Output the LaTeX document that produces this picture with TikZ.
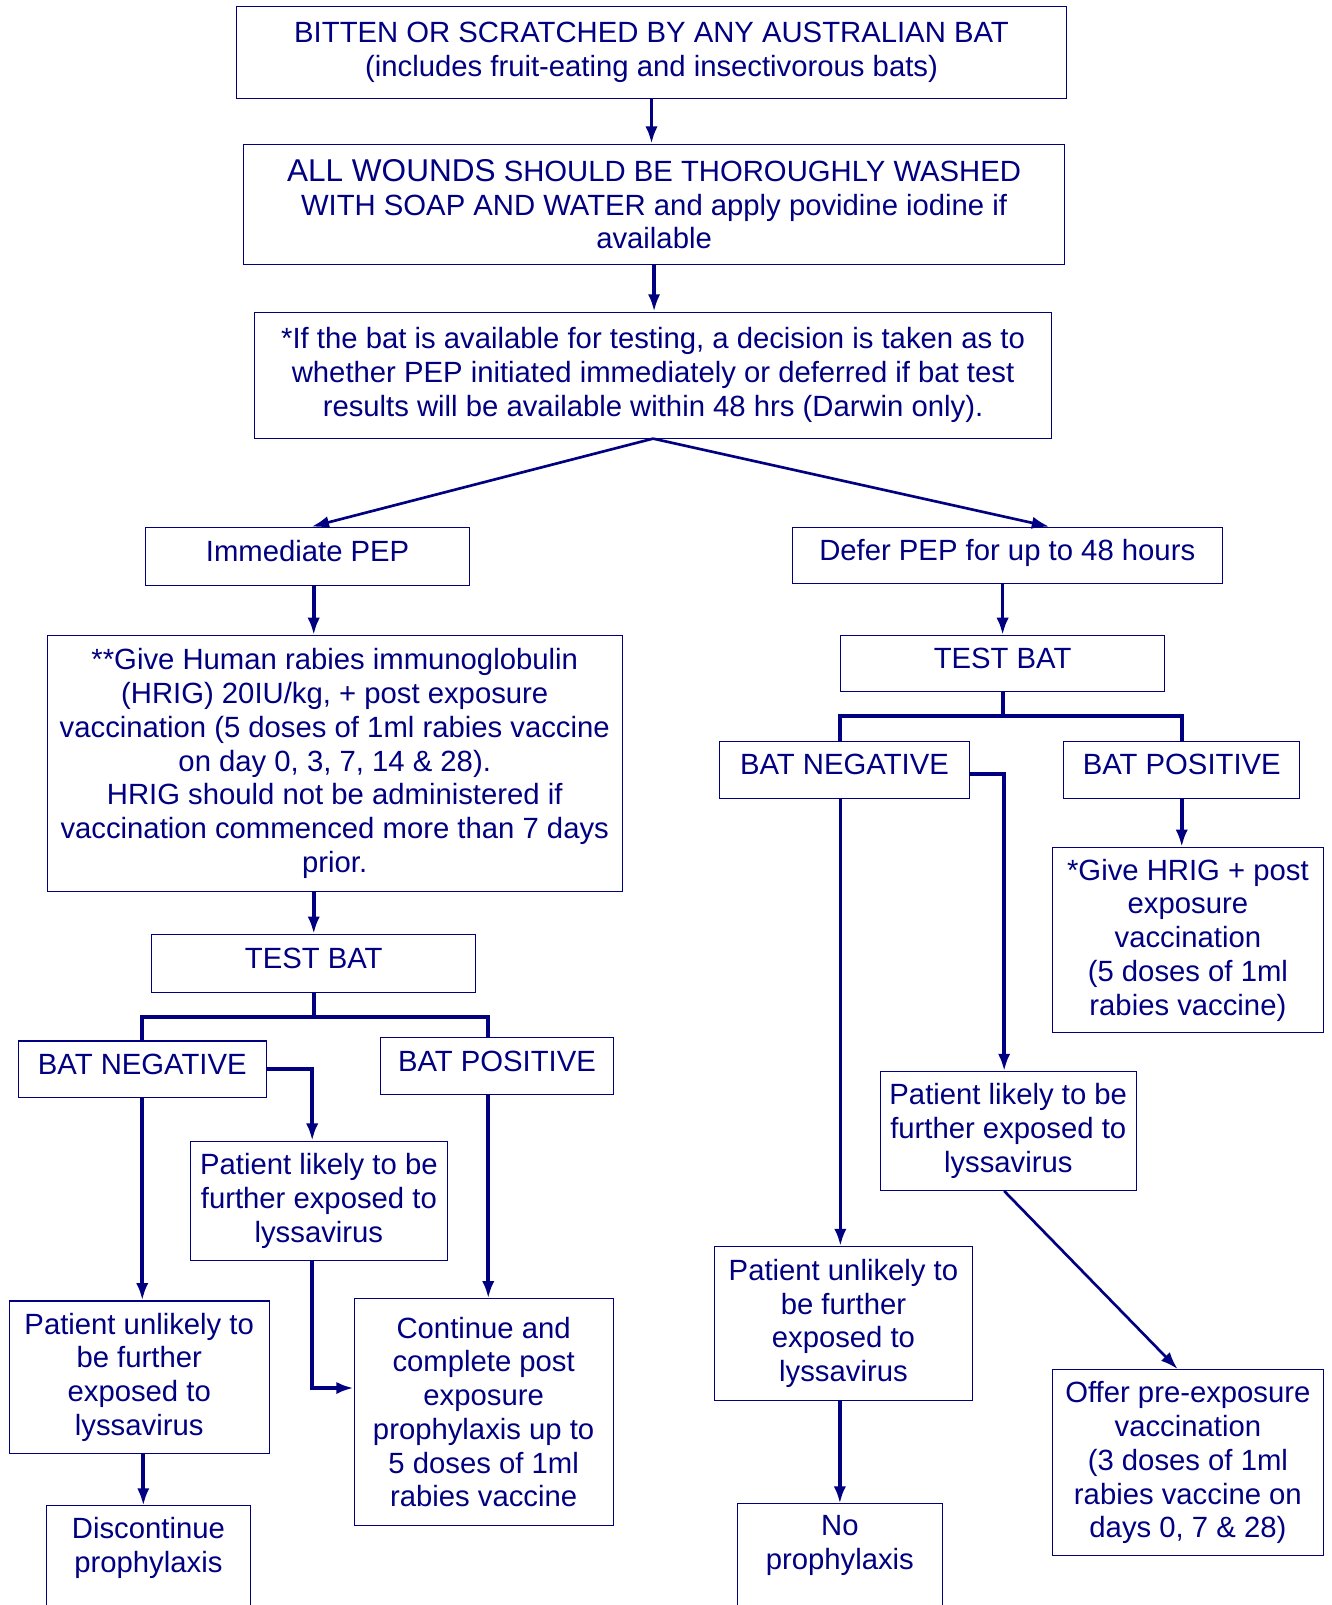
\documentclass[tikz,border=0pt]{standalone}
\usepackage{fontspec}
\setmainfont{Liberation Sans}
\usetikzlibrary{arrows.meta,positioning,calc}
\definecolor{navy}{RGB}{0,0,128}

\begin{document}
\begin{tikzpicture}[x=0.5pt,y=-0.5pt,color=navy,>={Latex[length=8.5pt,width=6pt]}]

\tikzstyle{box} = [draw, line width=0.5pt, rectangle, inner sep=0pt, align=center, font={\fontsize{14.3}{16.5}\selectfont}];
\tikzstyle{oneLine} = [box, text depth=5pt];
\tikzstyle{openBox} = [box, draw=none, anchor=north];
\tikzstyle{flowEdge} = [line width=1.8pt, ->];
\tikzstyle{slantEdge} = [line width=1.3pt, ->];
\tikzstyle{forkEdge} = [line width=1.9pt];
\tikzstyle{boxEdge} = [line width=0.5pt];

\useasboundingbox (0,0) rectangle (1301,1568);

\node[box, name=bitten, minimum width=405.5pt, minimum height=45pt] at (636.5,51) {BITTEN OR SCRATCHED BY ANY AUSTRALIAN BAT\\(includes fruit-eating and insectivorous bats)};
\node[box, name=wash, minimum width=401pt, minimum height=58.5pt] at (639,199.5) {{\fontsize{15.4}{16.5}\selectfont ALL WOUNDS} SHOULD BE THOROUGHLY WASHED\\WITH SOAP AND WATER and apply povidine iodine if\\available};
\node[box, name=decide, minimum width=389pt, minimum height=61.5pt] at (638,366.5) {*If the bat is available for testing, a decision is taken as to\\whether PEP initiated immediately or deferred if bat test\\results will be available within 48 hrs (Darwin only).};

% immediate branch
\node[oneLine, name=immed, minimum width=158.5pt, minimum height=28.5pt] at (300.5,543.5) {Immediate PEP};
\node[box, name=hrig, minimum width=281pt, minimum height=125pt] at (327,746) {**Give Human rabies immunoglobulin\\(HRIG) 20IU/kg, + post exposure\\vaccination (5 doses of 1ml rabies vaccine\\on day 0, 3, 7, 14 \& 28).\\HRIG should not be administered if\\vaccination commenced more than 7 days\\prior.};
\node[oneLine, name=testL, minimum width=158.5pt, minimum height=28.5pt] at (306.5,941.5) {TEST BAT};
\node[oneLine, name=negL, minimum width=121pt, minimum height=27.5pt] at (139,1044.5) {BAT NEGATIVE};
\node[oneLine, name=posL, minimum width=113.5pt, minimum height=27.5pt] at (485.5,1041.5) {BAT POSITIVE};
\node[box, name=likelyL, minimum width=125.5pt, minimum height=58pt] at (311.5,1173) {Patient likely to be\\further exposed to\\lyssavirus};
\node[box, name=unlikelyL, minimum width=127pt, minimum height=74.5pt] at (136,1345.5) {Patient unlikely to\\be further\\exposed to\\lyssavirus};
\node[box, name=contin, minimum width=126.5pt, minimum height=110.5pt] at (472.5,1379.5) {Continue and\\complete post\\exposure\\prophylaxis up to\\5 doses of 1ml\\rabies vaccine};
\node[openBox, name=discont, minimum width=99pt, minimum height=40.5pt] at (145,1471) {Discontinue\\prophylaxis};

% deferred branch
\node[oneLine, name=defer, minimum width=210pt, minimum height=27.5pt] at (984,542.5) {Defer PEP for up to 48 hours};
\node[oneLine, name=testR, minimum width=158.5pt, minimum height=27.5pt] at (979.5,648.5) {TEST BAT};
\node[oneLine, name=negR, minimum width=122pt, minimum height=28pt] at (825,752) {BAT NEGATIVE};
\node[oneLine, name=posR, minimum width=115.5pt, minimum height=28pt] at (1154.5,752) {BAT POSITIVE};
\node[box, name=giveR, minimum width=132.5pt, minimum height=90.5pt] at (1160.5,918.5) {*Give HRIG + post\\exposure\\vaccination\\(5 doses of 1ml\\rabies vaccine)};
\node[box, name=likelyR, minimum width=125pt, minimum height=58pt] at (985,1105) {Patient likely to be\\further exposed to\\lyssavirus};
\node[box, name=unlikelyR, minimum width=126pt, minimum height=75pt] at (824,1293) {Patient unlikely to\\be further\\exposed to\\lyssavirus};
\node[openBox, name=noproph, minimum width=99.5pt, minimum height=40pt] at (820.5,1469) {No\\prophylaxis};
\node[box, name=offer, minimum width=132.5pt, minimum height=91pt] at (1160.5,1429) {Offer pre-exposure\\vaccination\\(3 doses of 1ml\\rabies vaccine on\\days 0, 7 \& 28)};

% boxes running off the page
\draw[boxEdge] ([yshift=-30pt]discont.south west) |- (discont.north east) -- ([yshift=-30pt]discont.south east);
\draw[boxEdge] ([yshift=-30pt]noproph.south west) |- (noproph.north east) -- ([yshift=-30pt]noproph.south east);

\coordinate (forkL) at ([yshift=-11.5pt]testL.south);
\coordinate (forkR) at ([yshift=-11.5pt]testR.south);

\draw[flowEdge] (bitten.south) -- (bitten.south |- wash.north);
\draw[flowEdge] (wash.south) -- (wash.south |- decide.north);
\draw[slantEdge] (decide.south) -- ([xshift=2pt]immed.north);
\draw[slantEdge] (decide.south) -- ([xshift=20.5pt]defer.north);

\draw[flowEdge] (testL.north |- immed.south) -- (testL.north |- hrig.north);
\draw[flowEdge] (testL.north |- hrig.south) -- (testL.north);
\draw[forkEdge] (testL.south) -- (forkL);
\draw[forkEdge] (negL.north) |- (forkL) -| ([xshift=-4.25pt]posL.north);
\draw[flowEdge] (negL.east) -| ([xshift=-3.25pt]likelyL.north);
\draw[flowEdge] (negL.south) -- (negL.south |- unlikelyL.north);
\draw[flowEdge] ([xshift=2.25pt]contin.north |- posL.south) -- ([xshift=2.25pt]contin.north);
\draw[flowEdge] ([xshift=-3.25pt]likelyL.south) |- ([yshift=11.75pt]contin.west);
\draw[flowEdge] ([xshift=2pt]unlikelyL.south) -- ([xshift=2pt]unlikelyL.south |- discont.north);

\draw[flowEdge] (testR.north |- defer.south) -- (testR.north);
\draw[forkEdge] (testR.south) -- (forkR);
\draw[forkEdge] ([xshift=-2pt]negR.north) |- (forkR) -| (posR.north);
\draw[flowEdge] ([yshift=-2pt]negR.east) -| ([xshift=-2pt]likelyR.north);
\draw[flowEdge] ([xshift=-2pt]negR.south) -- ([xshift=-2pt]negR.south |- unlikelyR.north);
\draw[flowEdge] (posR.south) -- (posR.south |- giveR.north);
\draw[slantEdge] ([xshift=-2pt]likelyR.south) -- ([xshift=-5pt]offer.north);
\draw[flowEdge] (noproph.north |- unlikelyR.south) -- (noproph.north);

\end{tikzpicture}
\end{document}
